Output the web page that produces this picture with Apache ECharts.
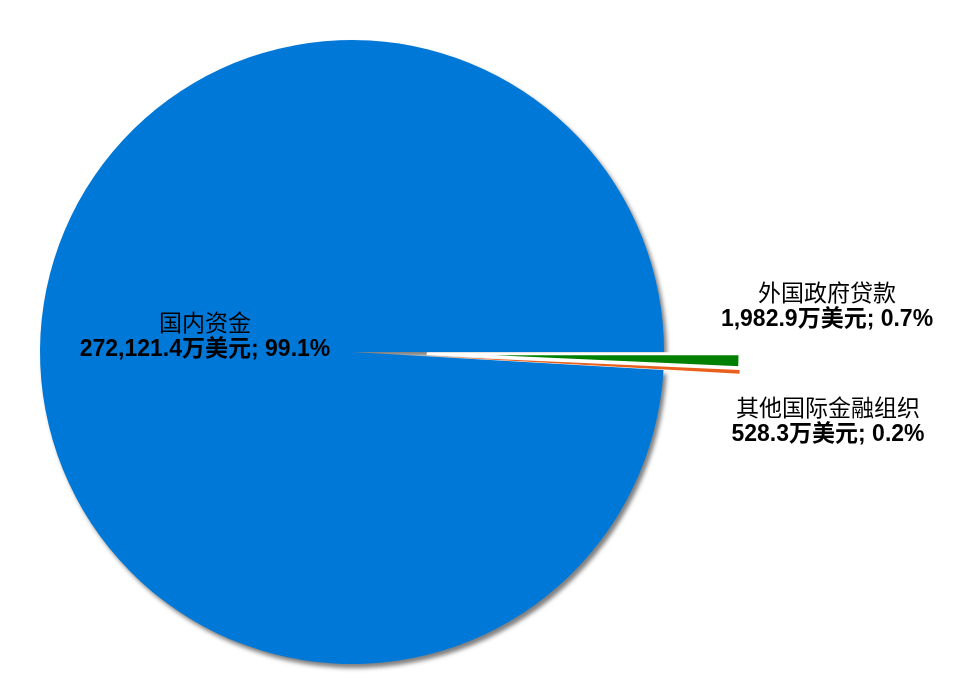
<!DOCTYPE html>
<html><head><meta charset="utf-8">
<script src="https://cdn.jsdelivr.net/npm/echarts@6/dist/echarts.min.js"></script>
<style>html,body{margin:0;padding:0;background:#fff}#c{width:965px;height:691px}</style>
</head><body><div id="c"></div>
<script>
const categories = ['国内资金', '外国政府贷款', '其他国际金融组织'];
const values = [272121.4, 1982.9, 528.3];
const percents = ['99.1%', '0.7%', '0.2%'];
const colors = ['#0078d7', '#008000', '#e8601c'];

const chart = echarts.init(document.getElementById('c'));
const fmtNum = v => v.toLocaleString('en-US', {minimumFractionDigits: 1, maximumFractionDigits: 1});
const total = values.reduce((a, b) => a + b, 0);
const startAngle = -360 * (values[1] + values[2]) / total;
const labelPos = [[205, 337], [827, 307], [828, 422]];
const font = 'Liberation Sans, Arial, Noto Sans CJK SC, sans-serif';

const baseData = categories.map((name, i) => ({ name, value: values[i] }));
const borderWidths = [0, 3, 0];

chart.setOption({
  animation: false,
  series: [{
    type: 'pie',
    center: [352, 352],
    radius: 312,
    startAngle: startAngle,
    clockwise: true,
    selectedMode: 'multiple',
    selectedOffset: 76,
    itemStyle: {
      shadowColor: 'rgba(0,0,0,0.5)', shadowBlur: 4, shadowOffsetX: 3, shadowOffsetY: 4
    },
    emphasis: { disabled: true },
    label: { show: false },
    labelLine: { show: false },
    data: baseData.map((d, i) => ({
      ...d, selected: i > 0,
      itemStyle: {
        color: colors[i], borderColor: '#fff', borderWidth: borderWidths[i], borderJoin: 'round',
        shadowColor: i > 0 ? 'rgba(0,0,0,0)' : 'rgba(0,0,0,0.5)'
      }
    }))
  }, {
    type: 'pie',
    silent: true,
    center: [352, 352],
    radius: 312,
    startAngle: startAngle,
    clockwise: true,
    avoidLabelOverlap: false,
    itemStyle: { color: 'rgba(0,0,0,0)' },
    emphasis: { disabled: true },
    label: {
      show: true,
      position: 'inside',
      formatter: p => '{a|' + p.name + '}\n{b|' + fmtNum(p.value) + '万美元; ' + percents[p.dataIndex] + '}',
      rich: {
        a: { fontSize: 23, lineHeight: 25, color: '#000', fontFamily: font },
        b: { fontSize: 23, lineHeight: 25, color: '#000', fontWeight: 'bold', fontFamily: font }
      }
    },
    labelLine: { show: false },
    labelLayout: function (p) {
      const q = labelPos[p.dataIndex];
      return { x: q[0], y: q[1], align: 'center', verticalAlign: 'middle' };
    },
    data: baseData
  }]
});
</script></body></html>
